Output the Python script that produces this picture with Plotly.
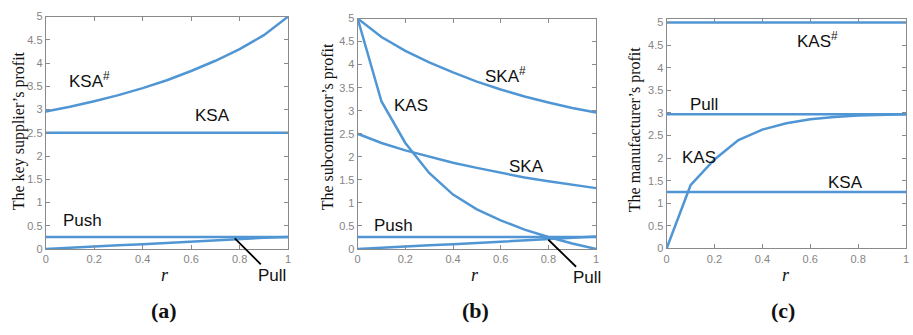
import plotly.graph_objects as go

# ---- data ----
r = [0, 0.1, 0.2, 0.3, 0.4, 0.5, 0.6, 0.7, 0.8, 0.9, 1.0]

# (a) key supplier's profit
a_ksa_sharp = [2.96, 3.06, 3.18, 3.31, 3.46, 3.63, 3.83, 4.05, 4.30, 4.60, 5.00]
a_ksa = [2.5] * 11
a_push = [0.26] * 11
a_pull = [0, 0.03, 0.05, 0.08, 0.10, 0.13, 0.16, 0.18, 0.21, 0.24, 0.26]

# (b) subcontractor's profit
b_ska_sharp = [5.00, 4.60, 4.30, 4.05, 3.83, 3.63, 3.46, 3.31, 3.18, 3.06, 2.96]
b_kas = [5.00, 3.20, 2.30, 1.65, 1.18, 0.86, 0.62, 0.42, 0.26, 0.12, 0.0]
b_ska = [2.50, 2.30, 2.14, 2.00, 1.87, 1.76, 1.65, 1.55, 1.47, 1.39, 1.32]
b_push = [0.26] * 11
b_pull = [0, 0.03, 0.05, 0.08, 0.10, 0.13, 0.16, 0.19, 0.21, 0.24, 0.27]

# (c) manufacturer's profit
c_kas_sharp = [5.0] * 11
c_pull = [2.97] * 11
c_kas = [0, 1.40, 1.97, 2.40, 2.63, 2.77, 2.86, 2.91, 2.94, 2.96, 2.97]
c_ksa = [1.25] * 11

x_ticks = [0, 0.2, 0.4, 0.6, 0.8, 1]
y_titles = ["The key supplier\u2019s profit", "The subcontractor\u2019s profit",
            "The manufacturer\u2019s profit"]
panel_labels = ["(a)", "(b)", "(c)"]

LINE = "#5096d4"
W, H = 913, 335

fig = go.Figure()

def add(series, k):
    xa = "x" if k == 1 else f"x{k}"
    ya = "y" if k == 1 else f"y{k}"
    for s in series:
        fig.add_trace(go.Scatter(x=r, y=s, mode="lines", xaxis=xa, yaxis=ya,
                                 line=dict(color=LINE, width=2.5), showlegend=False,
                                 hoverinfo="skip"))

add([a_ksa_sharp, a_ksa, a_push, a_pull], 1)
add([b_ska_sharp, b_kas, b_ska, b_push, b_pull], 2)
add([c_kas_sharp, c_pull, c_kas, c_ksa], 3)

# pixel geometry of each panel: (left, right, bottom, top, ymax)
panels = [(43, 287, 252, 11, 5.0), (357, 597, 252, 13, 5.0), (668, 909, 251.5, 13.3, 5.08)]

axis_common = dict(showgrid=False, zeroline=False, showline=True, linecolor="#8a8a8a",
                   linewidth=1, mirror="ticks", ticks="inside", ticklen=4,
                   tickcolor="#8a8a8a", ticklabeloverflow="allow",
                   tickfont=dict(family="Liberation Sans, Arial", size=11, color="#858585"))

layout = {}
for i, (l, rr, b, t, ymax) in enumerate(panels, start=1):
    xk = "xaxis" if i == 1 else f"xaxis{i}"
    yk = "yaxis" if i == 1 else f"yaxis{i}"
    anchor_x = "y" if i == 1 else f"y{i}"
    anchor_y = "x" if i == 1 else f"x{i}"
    layout[xk] = dict(axis_common, domain=[l / W, rr / W], range=[0, 1],
                      tickvals=x_ticks, anchor=anchor_x)
    layout[yk] = dict(axis_common, domain=[(H - b) / H, (H - t) / H], range=[0, ymax],
                      dtick=0.5, tick0=0, anchor=anchor_y)

fig.update_layout(width=W, height=H, margin=dict(l=0, r=0, t=0, b=0),
                  paper_bgcolor="white", plot_bgcolor="white", **layout)

lab_font = dict(family="Liberation Sans, Arial", size=17, color="#111111")
ann = []

def txt(k, x, y, text, **kw):
    xr = "x" if k == 1 else f"x{k}"
    yr = "y" if k == 1 else f"y{k}"
    d = dict(x=x, y=y, xref=xr, yref=yr, text=text, showarrow=False, font=lab_font,
             xanchor="center", yanchor="middle")
    d.update(kw)
    ann.append(d)

# (a)
txt(1, 0.18, 3.63, "KSA<sup>#</sup>")
txt(1, 0.69, 2.88, "KSA")
txt(1, 0.15, 0.62, "Push")
txt(1, 0.78, 0.23, "Pull", showarrow=True, arrowhead=0, arrowwidth=1.8,
    arrowcolor="black", ax=37, ay=37)
# (b)
txt(2, 0.62, 3.77, "SKA<sup>#</sup>")
txt(2, 0.225, 3.12, "KAS")
txt(2, 0.71, 1.78, "SKA")
txt(2, 0.15, 0.52, "Push")
txt(2, 0.80, 0.20, "Pull", showarrow=True, arrowhead=0, arrowwidth=1.8,
    arrowcolor="black", ax=39, ay=38)
# (c)
txt(3, 0.63, 4.62, "KAS<sup>#</sup>")
txt(3, 0.156, 3.19, "Pull")
txt(3, 0.135, 2.01, "KAS")
txt(3, 0.746, 1.46, "KSA")

serif = "Liberation Serif, Times New Roman, serif"
# y-axis titles
for xc, yc, t in zip([16, 327, 637], [129, 125, 128], y_titles):
    ann.append(dict(x=xc / W, y=(H - yc) / H, xref="paper", yref="paper", text=t,
                    textangle=-90, showarrow=False, xanchor="center", yanchor="middle",
                    font=dict(family=serif, size=16, color="#111111")))
# x-axis titles "r"
for xc in [163, 475, 788]:
    ann.append(dict(x=xc / W, y=(H - 279) / H, xref="paper", yref="paper", text="<i>r</i>",
                    showarrow=False, xanchor="center", yanchor="middle",
                    font=dict(family=serif, size=18, color="#111111")))
# panel labels
for xc, t in zip([162, 476, 785], panel_labels):
    ann.append(dict(x=xc / W, y=(H - 316) / H, xref="paper", yref="paper",
                    text=f"<b>{t}</b>", showarrow=False, xanchor="center", yanchor="middle",
                    font=dict(family=serif, size=22, color="#111111")))

fig.update_layout(annotations=ann)
fig.write_html("out.html", config={"displayModeBar": False},
               post_script="document.body.style.margin='0';document.body.style.overflow='hidden';")
